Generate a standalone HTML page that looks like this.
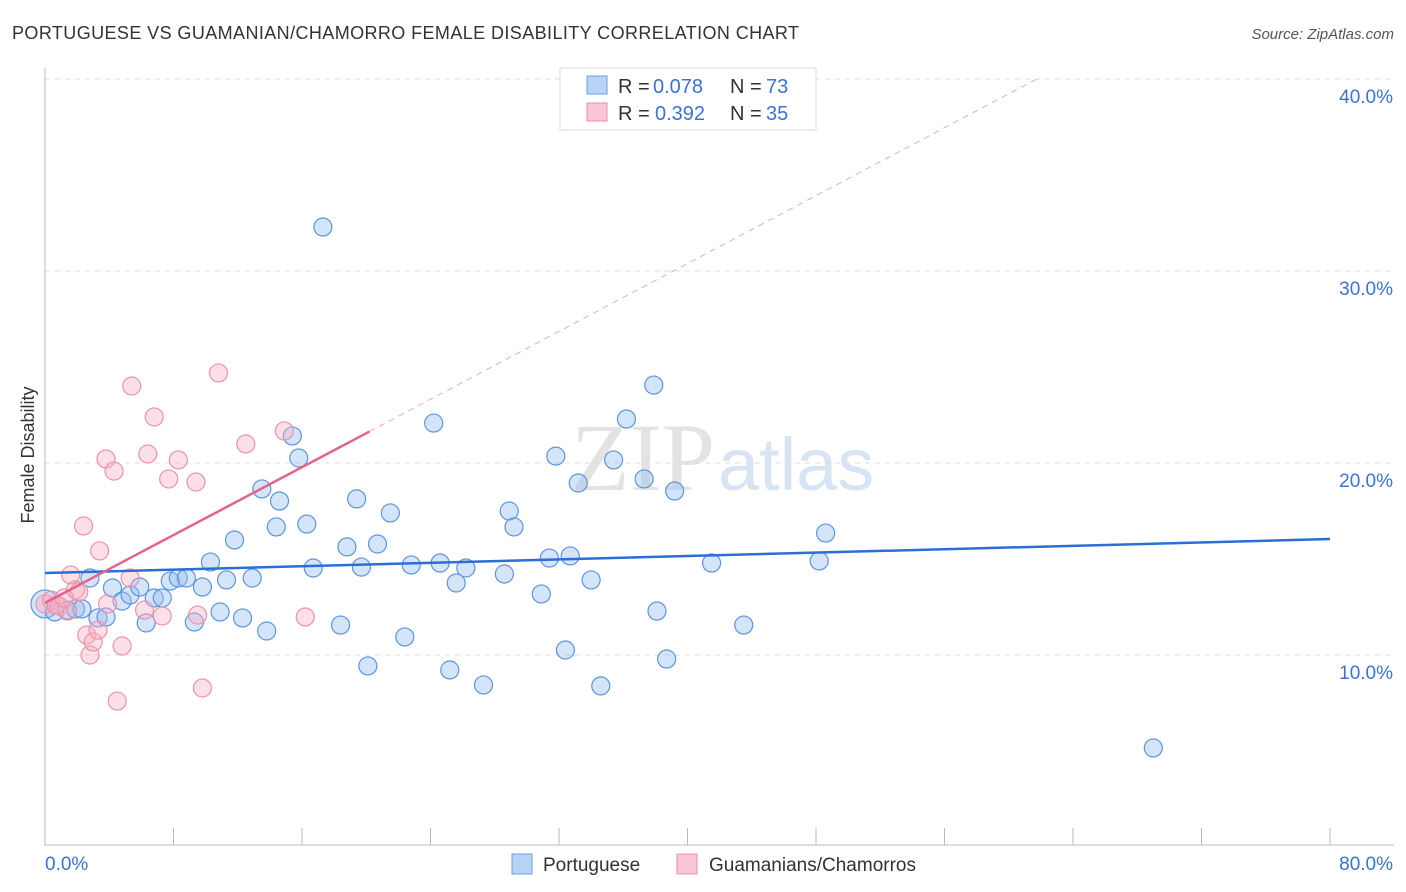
<!DOCTYPE html>
<html><head><meta charset="utf-8"><style>
body{margin:0;background:#fff;font-family:"Liberation Sans",sans-serif;}
svg{display:block}
</style></head><body>
<svg width="1406" height="892" font-family="Liberation Sans, sans-serif">
<text x="12" y="39" font-size="18" fill="#333" textLength="787">PORTUGUESE VS GUAMANIAN/CHAMORRO FEMALE DISABILITY CORRELATION CHART</text>
<text x="1394" y="39" font-size="15" fill="#555" text-anchor="end" font-style="italic">Source: ZipAtlas.com</text>
<text x="34" y="455" font-size="18" fill="#333" text-anchor="middle" transform="rotate(-90 34 455)">Female Disability</text>
<text x="715" y="490" font-size="96" fill="#e3e3e3" text-anchor="end" font-family="Liberation Serif, serif">ZIP</text>
<text x="718" y="490" font-size="74" fill="#d6e4f4">atlas</text>
<g id="grid"></g><g id="axes"></g><g id="pts"></g><g id="lines"></g>
<g>
<rect x="560" y="68" width="256" height="62" fill="#fff" stroke="#ddd"/>
<rect x="587" y="76" width="20" height="18" fill="#b7d3f5" stroke="#6a9fe0"/>
<rect x="587" y="103" width="20" height="18" fill="#f9c6d4" stroke="#eb8fa8"/>
<text x="618" y="93" font-size="20" fill="#333">R =</text><text x="653" y="93" font-size="20" fill="#3a73d1">0.078</text>
<text x="730" y="93" font-size="20" fill="#333">N =</text><text x="766" y="93" font-size="20" fill="#3a73d1">73</text>
<text x="618" y="120" font-size="20" fill="#333">R =</text><text x="655" y="120" font-size="20" fill="#3a73d1">0.392</text>
<text x="730" y="120" font-size="20" fill="#333">N =</text><text x="766" y="120" font-size="20" fill="#3a73d1">35</text>
</g>
<g>
<rect x="512" y="854" width="20" height="20" fill="#b7d3f5" stroke="#6a9fe0"/>
<text x="543" y="871" font-size="19" fill="#333">Portuguese</text>
<rect x="677" y="854" width="20" height="20" fill="#f9c6d4" stroke="#eb8fa8"/>
<text x="709" y="871" font-size="19" fill="#333">Guamanians/Chamorros</text>
</g>
</svg>
<script>
const xTicks=[0,8,16,24,32,40,48,56,64,72,80];
const yTicks=[10,20,30,40];
const blueX=[0.0,0.6,1.4,1.9,2.8,2.3,3.3,3.8,4.2,4.8,5.3,5.9,6.3,6.8,7.3,7.8,8.3,8.8,9.3,9.8,10.3,10.9,11.3,11.8,12.3,12.9,13.5,13.8,14.4,14.6,15.4,15.8,16.3,16.7,17.3,18.4,18.8,19.4,19.7,20.1,20.7,21.5,22.4,22.8,24.2,24.6,25.2,25.6,26.2,27.3,28.6,28.9,29.2,30.9,31.4,31.8,32.4,32.7,33.2,34.0,34.6,35.4,36.2,37.3,37.9,38.1,38.7,39.2,41.5,43.5,48.2,48.6,69.0];
const blueY=[12.66,12.24,12.34,12.40,14.01,12.40,11.93,11.98,13.49,12.81,13.13,13.54,11.67,12.97,12.97,13.85,14.01,14.01,11.72,13.54,14.84,12.24,13.91,15.99,11.93,14.01,18.65,11.25,16.67,18.02,21.41,20.26,16.82,14.53,32.29,11.56,15.63,18.13,14.58,9.43,15.78,17.40,10.94,14.69,22.08,14.79,9.22,13.75,14.53,8.44,14.22,17.5,16.67,13.18,15.05,20.36,10.26,15.16,18.96,13.91,8.39,20.16,22.29,19.17,24.06,12.29,9.79,18.54,14.79,11.56,14.90,16.35,5.16];
const pinkX=[0.0,0.4,0.9,1.4,1.6,1.9,2.1,2.4,2.6,2.8,3.0,3.3,3.4,3.8,3.9,4.3,4.5,4.8,5.3,5.4,6.2,6.4,6.8,7.3,7.7,8.3,9.4,9.5,9.8,10.8,12.5,14.9,16.2,0.7,1.2];
const pinkY=[12.66,12.86,12.55,12.29,14.17,13.39,13.28,16.72,11.04,10.0,10.68,11.30,15.42,20.21,12.66,19.58,7.60,10.47,14.01,24.01,12.34,20.47,22.40,12.03,19.17,20.16,19.01,12.08,8.28,24.69,20.99,21.67,11.98,12.60,12.97];
const blueFit=[14.27,16.04];
const pinkFit=[12.71,0.442];
const NS='http://www.w3.org/2000/svg';
const X=v=>45+v*16.0625, Y=v=>847-v*19.2;
function mk(t,a,p){const e=document.createElementNS(NS,t);for(const k in a)e.setAttribute(k,a[k]);document.getElementById(p).appendChild(e);return e;}
yTicks.forEach(t=>{
 const g=mk('line',{x1:45,x2:1394,y1:Y(t),y2:Y(t),stroke:'#ddd','stroke-dasharray':'5,5'},'grid');
 
 
 const l=mk('text',{x:1393,y:Y(t)+24,'font-size':19,fill:'#3a73d1','text-anchor':'end'},'grid');l.textContent=t.toFixed(1)+'%';
 
 
});
mk('line',{x1:45,x2:45,y1:68,y2:846,stroke:'#bbb'},'axes');
mk('line',{x1:45,x2:1394,y1:845,y2:845,stroke:'#bbb'},'axes');
xTicks.forEach(t=>{const e=mk('line',{x1:X(t),x2:X(t),y1:828,y2:845,stroke:'#bbb'},'axes');
 
 });
const xl0=mk('text',{x:45,y:870,'font-size':19,fill:'#3a73d1'},'axes');xl0.textContent=xTicks[0].toFixed(1)+'%';


const xl1=mk('text',{x:1393,y:870,'font-size':19,fill:'#3a73d1','text-anchor':'end'},'axes');xl1.textContent=xTicks[xTicks.length-1].toFixed(1)+'%';


blueX.forEach((x,i)=>{const c=mk('circle',{cx:X(x),cy:Y(blueY[i]),r:i==0?14:9,fill:'rgba(150,190,240,0.4)',stroke:'#5b95df','stroke-width':1.2},'pts');
 
 });
pinkX.forEach((x,i)=>{const c=mk('circle',{cx:X(x),cy:Y(pinkY[i]),r:9,fill:'rgba(247,175,195,0.4)',stroke:'#ec93ab','stroke-width':1.2},'pts');
 
 });
const bl=mk('line',{x1:X(0),y1:Y(blueFit[0]),x2:X(80),y2:Y(blueFit[1]),stroke:'#2a6fd6','stroke-width':2.5},'lines');


const pxEnd=Math.max(...pinkX)+4;
const pd=mk('line',{x1:X(pxEnd),y1:Y(pinkFit[0]+pinkFit[1]*pxEnd),x2:X(62),y2:Y(pinkFit[0]+pinkFit[1]*62),stroke:'#eeaabb','stroke-width':1,'stroke-dasharray':'6,5'},'lines');


const pl=mk('line',{x1:X(0),y1:Y(pinkFit[0]),x2:X(pxEnd),y2:Y(pinkFit[0]+pinkFit[1]*pxEnd),stroke:'#e4628c','stroke-width':2.5},'lines');


</script>
</body></html>
